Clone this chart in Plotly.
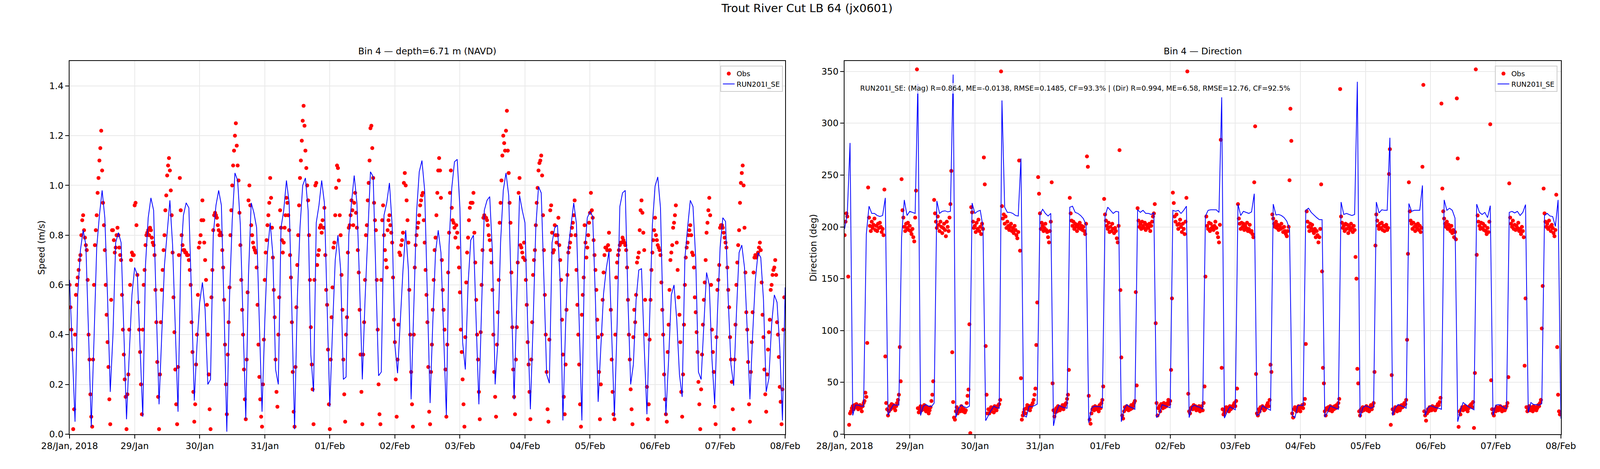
import pandas as pd
import plotly.graph_objects as go

# ---- data ----
# model output, hourly from 28/Jan 00:00
model_speed = [
    0.62, 0.33, 0.05, 0.56, 0.74, 0.82, 0.76, 0.40, 0.03, 0.38, 0.75, 0.88,
    0.98, 0.87, 0.55, 0.17, 0.40, 0.77, 0.81, 0.77, 0.42, 0.06, 0.32, 0.56,
    0.67, 0.64, 0.35, 0.07, 0.68, 0.87, 0.95, 0.90, 0.50, 0.12, 0.40, 0.68,
    0.81, 0.94, 0.76, 0.42, 0.09, 0.70, 0.88, 0.93, 0.91, 0.55, 0.135, 0.36,
    0.53, 0.61, 0.50, 0.20, 0.22, 0.80, 0.92, 0.98, 0.92, 0.50, 0.01, 0.55,
    0.86, 1.05, 1.02, 0.84, 0.45, 0.06, 0.64, 0.93, 0.89, 0.83, 0.45, 0.09,
    0.45, 0.73, 0.85, 0.72, 0.26, 0.20, 0.83, 0.90, 1.02, 0.93, 0.50, 0.02,
    0.54, 0.83, 1.00, 1.03, 0.90, 0.32, 0.17, 0.85, 0.92, 1.02, 0.93, 0.50,
    0.11, 0.42, 0.70, 0.80, 0.66, 0.22, 0.23, 0.80, 0.93, 1.04, 0.93, 0.60,
    0.22, 0.54, 0.80, 1.055, 1.035, 0.62, 0.235, 0.25, 0.88, 0.93, 1.01, 0.84,
    0.36, 0.245, 0.45, 0.66, 0.82, 0.66, 0.14, 0.50, 0.89, 1.055, 1.10, 0.98,
    0.55, 0.125, 0.45, 0.73, 0.82, 0.73, 0.40, 0.075, 0.76, 0.99, 1.095, 1.105,
    0.91, 0.37, 0.26, 0.60, 0.78, 0.80, 0.45, 0.12, 0.51, 0.90, 0.94, 0.955,
    0.73, 0.20, 0.37, 0.77, 0.98, 1.05, 0.96, 0.55, 0.14, 0.54, 0.96, 0.90,
    0.85, 0.44, 0.10, 0.44, 0.83, 0.995, 0.97, 0.62, 0.24, 0.205, 0.77, 0.83,
    0.84, 0.61, 0.055, 0.44, 0.75, 0.84, 0.93, 0.845, 0.44, 0.055, 0.73, 0.87,
    0.895, 0.875, 0.54, 0.13, 0.35, 0.565, 0.665, 0.735, 0.40, 0.07, 0.44, 0.915,
    0.97, 0.98, 0.54, 0.20, 0.28, 0.54, 0.66, 0.665, 0.35, 0.08, 0.46, 0.84,
    0.997, 1.034, 0.91, 0.44, 0.075, 0.30, 0.56, 0.60, 0.46, 0.24, 0.15, 0.705,
    0.83, 0.94, 0.915, 0.705, 0.25, 0.22, 0.44, 0.65, 0.60, 0.30, 0.12, 0.48,
    0.75, 0.87, 0.855, 0.54, 0.28, 0.195, 0.48, 0.73, 0.76, 0.67, 0.42, 0.14,
    0.40, 0.62, 0.73, 0.71, 0.54, 0.17, 0.225, 0.44, 0.56, 0.53, 0.35, 0.055,
    0.59,
]

model_dir = [
    198, 213, 281, 18, 28, 28, 27, 27, 193, 220, 213, 213,
    211, 210, 211, 228, 18, 24, 28.5, 28, 28, 190, 226, 211,
    215, 214, 213, 338, 18, 27, 28.5, 27, 26.5, 30, 225, 213,
    215, 215.5, 214.5, 215, 347, 16, 25, 28, 26.5, 25.5, 27, 223,
    213, 215, 216, 200, 13, 18, 23, 27, 25.5, 25, 322, 219,
    214, 214, 213, 211, 210.5, 266, 18, 16.5, 27, 26.5, 27.5, 29,
    212, 217, 213, 210.5, 213, 8, 21, 28, 26.5, 25.5, 25, 219,
    220, 214, 213, 211, 208, 202, 11, 25, 27, 26.5, 26.5, 25.5,
    210.5, 219, 216, 213, 215, 214.5, 12, 24, 28.5, 26.5, 25.5, 24,
    216.5, 214, 216, 213, 213, 212, 213.5, 16, 19, 28.5, 27.5, 26.5,
    25.5, 216, 215, 216, 213, 216, 220, 16, 26.5, 28, 26.5, 26,
    24, 210.5, 216, 216.5, 216.5, 216.5, 214, 325, 15.5, 21.5, 26.5, 25,
    23.5, 222, 211, 215, 214, 213, 214.5, 232, 18, 19.5, 27.5, 25.5,
    24.5, 23, 222, 211.5, 212, 211, 209, 205.5, 198, 18, 16, 27.5,
    28, 27.5, 216, 218, 214, 211.5, 209, 207, 207, 16.5, 21, 27.5,
    26, 25, 24, 224, 212, 213, 212, 211, 212, 340, 16, 25.5,
    27.5, 26.5, 25, 26.5, 224, 213.5, 216.5, 216, 216, 286, 18, 25.5,
    28.5, 27.5, 26.5, 25, 222.5, 215, 216, 216, 216, 240, 18, 25.5,
    27.5, 26.5, 25.5, 25, 24, 226, 216, 218, 216, 208.5, 12, 23,
    30.5, 28.5, 26.5, 25, 23.5, 222, 214, 212, 214, 209, 220.5, 18,
    28, 28.5, 27.5, 25.5, 24.5, 214, 215, 213.5, 215, 211, 214, 221.5,
    21, 30.5, 28.5, 28.5, 28, 29.5, 211, 213, 210.5, 210, 200.5, 226,
    15,
]

# observations, every 20 minutes from 28/Jan 00:00 (one row = 4 hours)
obs_speed = [
    0.60, 0.51, 0.42, 0.34, 0.02, 0.10, 0.40, 0.56, 0.60, 0.63, 0.66, 0.70,
    0.72, 0.80, 0.86, 0.88, 0.82, 0.79, 0.76, 0.74, 0.62, 0.40, 0.30, 0.16,
    0.07, 0.03, 0.30, 0.60, 0.76, 0.82, 0.88, 0.97, 1.03, 1.10, 1.15, 1.22,
    1.06, 0.93, 0.84, 0.74, 0.60, 0.48, 0.37, 0.27, 0.14, 0.04, 0.54, 0.82,
    0.82, 0.78, 0.73, 0.75, 0.80, 0.83, 0.80, 0.75, 0.72, 0.70, 0.56, 0.42,
    0.32, 0.22, 0.15, 0.02, 0.16, 0.24, 0.42, 0.60, 0.70, 0.73, 0.72, 0.72,
    0.92, 0.93, 0.84, 0.64, 0.53, 0.42, 0.33, 0.20, 0.08, 0.42, 0.60, 0.66,
    0.76, 0.80, 0.81, 0.82, 0.80, 0.83, 0.82, 0.79, 0.77, 0.76, 0.72, 0.58,
    0.45, 0.29, 0.15, 0.02, 0.24, 0.45, 0.58, 0.66, 0.74, 0.80, 0.90, 0.96,
    1.04, 1.08, 1.11, 1.06, 0.98, 0.88, 0.73, 0.55, 0.41, 0.26, 0.12, 0.04,
    0.27, 0.72, 1.03, 0.90, 0.80, 0.76, 0.74, 0.74, 0.73, 0.73, 0.72, 0.72,
    0.70, 0.66, 0.60, 0.45, 0.33, 0.17, 0.05, 0.12, 0.28, 0.40, 0.56, 0.75,
    0.77, 0.80, 0.86, 0.94, 0.86, 0.77, 0.70, 0.62, 0.52, 0.40, 0.24, 0.10,
    0.02, 0.55, 0.66, 0.82, 0.88, 0.89, 0.88, 0.87, 0.84, 0.82, 0.80, 0.81,
    0.80, 0.74, 0.67, 0.54, 0.36, 0.20, 0.08, 0.32, 0.45, 0.59, 0.80, 0.90,
    1.00, 1.08, 1.14, 1.20, 1.25, 1.16, 1.08, 1.02, 0.89, 0.76, 0.62, 0.50,
    0.40, 0.26, 0.14, 0.06, 0.30, 0.57, 0.94, 1.00, 0.92, 0.84, 0.80, 0.77,
    0.75, 0.74, 0.73, 0.67, 0.52, 0.36, 0.23, 0.14, 0.07, 0.03, 0.20, 0.38,
    0.62, 0.73, 0.78, 0.84, 0.88, 0.93, 1.03, 0.95, 0.83, 0.71, 0.58, 0.47,
    0.30, 0.17, 0.11, 0.40, 0.55, 0.90, 0.83, 0.78, 0.73, 0.77, 0.83, 0.88,
    0.95, 0.93, 0.88, 0.82, 0.72, 0.63, 0.45, 0.25, 0.09, 0.03, 0.27, 0.51,
    0.68, 0.80, 0.92, 1.03, 1.10, 1.18, 1.26, 1.32, 1.24, 1.14, 1.07, 1.00,
    0.94, 0.80, 0.62, 0.43, 0.28, 0.18, 0.04, 0.62, 1.00, 1.01, 0.68, 0.72,
    0.74, 0.83, 0.84, 0.81, 0.86, 0.83, 0.91, 0.72, 0.58, 0.52, 0.34, 0.12,
    0.02, 0.30, 0.47, 0.59, 0.75, 0.77, 0.88, 0.99, 1.08, 1.07, 1.02, 0.88,
    0.80, 0.64, 0.50, 0.30, 0.16, 0.05, 0.40, 0.47, 0.73, 0.83, 0.84, 0.88,
    0.94, 0.90, 0.84, 0.93, 0.97, 0.89, 0.83, 0.74, 0.65, 0.50, 0.32, 0.17,
    0.04, 0.32, 0.45, 0.62, 0.80, 0.84, 0.94, 1.01, 1.10, 1.23, 1.24, 1.15,
    1.03, 0.93, 0.86, 0.82, 0.62, 0.42, 0.20, 0.08, 0.04, 0.62, 0.86, 0.92,
    0.80, 0.74, 0.70, 0.67, 0.82, 0.86, 0.88, 0.84, 0.81, 0.77, 0.63, 0.46,
    0.37, 0.22, 0.07, 0.30, 0.44, 0.73, 0.72, 0.76, 0.78, 0.81, 1.01, 1.05,
    1.00, 0.94, 0.86, 0.77, 0.58, 0.40, 0.25, 0.12, 0.03, 0.40, 0.67, 0.76,
    0.80, 0.83, 0.85, 0.88, 0.92, 0.94, 0.96, 0.97, 0.86, 0.77, 0.66, 0.56,
    0.45, 0.27, 0.09, 0.04, 0.25, 0.36, 0.50, 0.62, 0.74, 0.79, 0.88, 0.97,
    1.06, 1.11, 1.06, 0.95, 0.70, 0.58, 0.50, 0.42, 0.26, 0.07, 0.36, 0.65,
    0.81, 0.97, 1.06, 0.91, 0.86, 0.85, 0.83, 0.79, 0.84, 0.81, 0.75, 0.67,
    0.57, 0.42, 0.33, 0.22, 0.12, 0.03, 0.39, 0.61, 0.73, 0.79, 0.86, 0.91,
    0.93, 0.93, 0.93, 0.97, 0.81, 0.69, 0.54, 0.40, 0.30, 0.17, 0.06, 0.41,
    0.60, 0.74, 0.87, 0.88, 0.87, 0.87, 0.86, 0.84, 0.80, 0.78, 0.74, 0.69,
    0.58, 0.40, 0.25, 0.15, 0.07, 0.36, 0.49, 0.62, 0.85, 0.93, 1.02, 1.12,
    1.20, 1.17, 1.14, 1.22, 1.30, 1.14, 1.05, 0.93, 0.85, 0.65, 0.43, 0.26,
    0.15, 0.08, 0.30, 0.43, 0.69, 0.97, 1.03, 0.76, 0.75, 0.73, 0.71, 0.77,
    0.70, 0.62, 0.52, 0.37, 0.28, 0.17, 0.06, 0.30, 0.45, 0.64, 0.70, 0.74,
    0.84, 0.93, 0.99, 1.06, 1.09, 1.10, 1.12, 1.04, 0.88, 0.74, 0.56, 0.40,
    0.25, 0.10, 0.05, 0.38, 0.90, 0.92, 0.81, 0.73, 0.74, 0.84, 0.80, 0.77,
    0.80, 0.87, 0.76, 0.70, 0.62, 0.46, 0.32, 0.15, 0.08, 0.28, 0.50, 0.64,
    0.73, 0.75, 0.77, 0.80, 0.83, 0.85, 0.88, 0.94, 0.80, 0.66, 0.52, 0.40,
    0.28, 0.12, 0.03, 0.48, 0.56, 0.63, 0.84, 0.77, 0.71, 0.75, 0.80, 0.85,
    0.89, 0.97, 0.90, 0.87, 0.78, 0.72, 0.66, 0.58, 0.46, 0.39, 0.25, 0.06,
    0.20, 0.40, 0.54, 0.65, 0.72, 0.75, 0.75, 0.74, 0.76, 0.81, 0.74, 0.50,
    0.30, 0.17, 0.08, 0.06, 0.40, 0.63, 0.69, 0.72, 0.74, 0.76, 0.77, 0.77,
    0.79, 0.78, 0.77, 0.76, 0.74, 0.67, 0.54, 0.40, 0.30, 0.18, 0.10, 0.04,
    0.39, 0.50, 0.45, 0.56, 0.69, 0.71, 0.73, 0.82, 0.90, 0.94, 0.89, 0.81,
    0.74, 0.54, 0.40, 0.19, 0.06, 0.12, 0.38, 0.54, 0.66, 0.73, 0.78, 0.82,
    0.87, 0.80, 0.78, 0.76, 0.75, 0.74, 0.72, 0.61, 0.50, 0.40, 0.24, 0.14,
    0.08, 0.05, 0.33, 0.44, 0.58, 0.70, 0.73, 0.76, 0.83, 0.85, 0.88, 0.92,
    0.77, 0.66, 0.55, 0.48, 0.37, 0.17, 0.07, 0.24, 0.44, 0.60, 0.71, 0.75,
    0.77, 0.80, 0.82, 0.84, 0.80, 0.73, 0.72, 0.67, 0.55, 0.49, 0.41, 0.33,
    0.21, 0.12, 0.02, 0.18, 0.32, 0.44, 0.54, 0.61, 0.70, 0.81, 0.85, 0.90,
    0.95, 0.88, 0.60, 0.42, 0.33, 0.25, 0.11, 0.04, 0.39, 0.58, 0.62, 0.68,
    0.83, 0.84, 0.84, 0.83, 0.81, 0.79, 0.77, 0.75, 0.67, 0.58, 0.51, 0.39,
    0.30, 0.21, 0.10, 0.02, 0.30, 0.44, 0.60, 0.69, 0.76, 0.82, 0.93, 1.01,
    1.05, 1.08, 1.00, 0.83, 0.65, 0.49, 0.42, 0.29, 0.12, 0.05, 0.25, 0.37,
    0.49, 0.65, 0.71, 0.72, 0.71, 0.72, 0.73, 0.75, 0.77, 0.74, 0.61, 0.48,
    0.39, 0.26, 0.16, 0.09, 0.24, 0.34, 0.41, 0.46, 0.58, 0.60, 0.64, 0.66,
    0.67, 0.70, 0.64, 0.45, 0.40, 0.31, 0.19, 0.13, 0.04, 0.18, 0.42, 0.55,
]

obs_dir = [
    192, 205, 213, 210, 152, 9, 20, 22, 25, 27, 24, 28,
    26, 29, 27, 24, 26, 28, 25, 22, 27, 30, 32, 40,
    36, 88, 238, 209, 201, 196, 205, 199, 202, 208, 197, 201,
    196, 203, 199, 204, 200, 195, 198, 192, 236, 75, 30, 24,
    18, 22, 27, 24, 29, 26, 28, 25, 23, 27, 30, 33,
    38, 84, 51, 246, 216, 209, 200, 196, 203, 199, 204, 197,
    201, 196, 193, 198, 190, 186, 209, 235, 352, 25, 21, 24,
    27, 23, 26, 24, 28, 25, 22, 26, 24, 20, 23, 26,
    32, 38, 51, 226, 213, 205, 199, 210, 202, 196, 205, 200,
    194, 199, 203, 197, 191, 205, 200, 196, 209, 222, 254, 79,
    31, 16, 14, 22, 26, 20, 24, 23, 22, 27, 25, 22,
    24, 21, 23, 30, 37, 43, 106, 1, 219, 214, 205, 199,
    201, 195, 204, 198, 207, 196, 200, 193, 203, 198, 267, 241,
    85, 38, 20, 24, 20, 23, 26, 22, 25, 21, 27, 24,
    23, 26, 28, 29, 33, 350, 220, 208, 212, 203, 210, 199,
    205, 201, 197, 200, 203, 196, 199, 194, 201, 197, 192, 189,
    195, 264, 177, 54, 14, 18, 21, 24, 20, 25, 28, 24,
    27, 23, 26, 28, 30, 33, 38, 44, 86, 127, 248, 232,
    213, 198, 204, 201, 196, 199, 203, 197, 195, 190, 185, 196,
    205, 243, 49, 23, 17, 21, 25, 22, 27, 24, 23, 26,
    25, 28, 24, 27, 29, 30, 34, 38, 62, 228, 213, 206,
    201, 205, 198, 203, 200, 196, 202, 199, 204, 198, 201, 197,
    200, 196, 193, 203, 268, 258, 37, 14, 10, 20, 24, 26,
    23, 27, 25, 24, 26, 22, 28, 25, 30, 33, 46, 227,
    212, 206, 201, 198, 204, 195, 200, 196, 203, 198, 194, 199,
    196, 189, 185, 201, 274, 139, 74, 18, 15, 22, 26, 24,
    27, 25, 23, 26, 24, 28, 25, 27, 30, 32, 137, 47,
    218, 206, 200, 203, 198, 205, 201, 199, 204, 197, 202, 200,
    199, 203, 196, 201, 205, 210, 213, 222, 107, 30, 18, 25,
    27, 22, 29, 28, 25, 30, 26, 29, 27, 30, 33, 29,
    32, 62, 131, 233, 223, 210, 205, 212, 202, 198, 203, 207,
    200, 195, 203, 198, 193, 205, 228, 350, 39, 22, 20, 25,
    26, 24, 28, 25, 27, 23, 26, 24, 27, 22, 25, 27,
    23, 30, 46, 152, 210, 201, 198, 204, 196, 203, 199, 200,
    197, 201, 205, 199, 194, 190, 185, 202, 284, 64, 24, 19,
    21, 23, 26, 24, 25, 22, 27, 24, 25, 26, 28, 30,
    27, 32, 44, 222, 208, 203, 198, 204, 200, 203, 197, 201,
    199, 204, 196, 198, 202, 195, 196, 193, 190, 243, 297, 58,
    20, 18, 24, 22, 26, 25, 27, 25, 23, 24, 26, 28,
    30, 27, 33, 67, 60, 212, 208, 203, 200, 205, 199, 202,
    197, 201, 198, 203, 199, 195, 200, 196, 193, 191, 196, 200,
    245, 314, 283, 20, 16, 24, 26, 23, 22, 25, 27, 24,
    22, 26, 28, 25, 29, 34, 87, 215, 205, 200, 196, 203,
    199, 202, 196, 194, 198, 190, 196, 192, 185, 190, 198, 241,
    157, 64, 49, 22, 18, 25, 24, 26, 23, 27, 25, 22,
    26, 24, 27, 25, 28, 26, 30, 34, 333, 210, 204, 199,
    201, 196, 203, 198, 202, 194, 200, 197, 203, 199, 195, 201,
    197, 171, 150, 63, 49, 22, 18, 24, 22, 26, 23, 25,
    24, 27, 23, 25, 22, 26, 28, 24, 27, 30, 60, 182,
    212, 206, 201, 198, 203, 199, 204, 197, 201, 196, 200, 202,
    197, 199, 251, 275, 9, 57, 24, 20, 23, 26, 25, 22,
    24, 27, 23, 25, 28, 26, 27, 30, 29, 33, 91, 174,
    243, 215, 206, 203, 198, 204, 200, 196, 202, 199, 203, 197,
    201, 195, 199, 258, 337, 22, 18, 13, 20, 24, 22, 26,
    25, 23, 27, 24, 26, 23, 25, 27, 29, 28, 31, 35,
    319, 237, 215, 208, 203, 200, 205, 198, 202, 199, 196, 201,
    194, 197, 190, 195, 188, 324, 266, 7, 22, 19, 24, 26,
    23, 25, 27, 24, 26, 22, 25, 27, 28, 29, 26, 31,
    6, 59, 352, 173, 211, 205, 201, 198, 204, 199, 203, 197,
    201, 196, 193, 199, 195, 205, 299, 52, 24, 20, 18, 24,
    22, 26, 25, 23, 24, 27, 25, 22, 24, 26, 23, 25,
    27, 30, 55, 242, 209, 203, 200, 206, 198, 202, 197, 201,
    199, 204, 196, 198, 193, 200, 196, 190, 66, 131, 26, 22,
    24, 27, 23, 26, 25, 22, 27, 24, 26, 23, 25, 28,
    27, 30, 33, 102, 143, 237, 213, 205, 200, 203, 198, 206,
    200, 196, 202, 199, 194, 191, 197, 231, 84, 38, 22, 19,
]

tick_days = ["2018-01-28", "2018-01-29", "2018-01-30", "2018-01-31", "2018-02-01", "2018-02-02",
             "2018-02-03", "2018-02-04", "2018-02-05", "2018-02-06", "2018-02-07", "2018-02-08"]
tick_labels = ["28/Jan, 2018", "29/Jan", "30/Jan", "31/Jan", "01/Feb", "02/Feb",
               "03/Feb", "04/Feb", "05/Feb", "06/Feb", "07/Feb", "08/Feb"]
speed_ticks = [0.0, 0.2, 0.4, 0.6, 0.8, 1.0, 1.2, 1.4]
dir_ticks = [0, 50, 100, 150, 200, 250, 300, 350]

stats_text = ("RUN201I_SE: (Mag) R=0.864, ME=-0.0138, RMSE=0.1485, CF=93.3% | "
              "(Dir) R=0.994, ME=6.58, RMSE=12.76, CF=92.5%")

# ---- time axes ----
t0 = pd.Timestamp("2018-01-28")
model_time = pd.date_range(t0, periods=len(model_speed), freq="h")
obs_time_spd = pd.date_range(t0, periods=len(obs_speed), freq="20min")
obs_time_dir = pd.date_range(t0, periods=len(obs_dir), freq="20min")

FONT = "DejaVu Sans"
# positions below are measured on the 5000x1200 reference and kept as fractions,
# the figure itself is stretched to whatever the browser window is
RW, RH = 5000, 1200

fig = go.Figure()

# left panel: speed
fig.add_trace(go.Scatter(x=obs_time_spd, y=obs_speed, mode="markers", name="Obs",
                         marker=dict(color="red", size=10, line=dict(width=0)),
                         xaxis="x", yaxis="y", legend="legend"))
fig.add_trace(go.Scatter(x=model_time, y=model_speed, mode="lines", name="RUN201I_SE",
                         line=dict(color="blue", width=2),
                         xaxis="x", yaxis="y", legend="legend"))

# right panel: direction
fig.add_trace(go.Scatter(x=obs_time_dir, y=obs_dir, mode="markers", name="Obs",
                         marker=dict(color="red", size=10, line=dict(width=0)),
                         xaxis="x2", yaxis="y2", legend="legend2"))
fig.add_trace(go.Scatter(x=model_time, y=model_dir, mode="lines", name="RUN201I_SE",
                         line=dict(color="blue", width=2),
                         xaxis="x2", yaxis="y2", legend="legend2"))

axis_style = dict(showline=True, mirror=True, linecolor="black", linewidth=2,
                  ticks="outside", ticklen=9, tickwidth=2, tickcolor="black",
                  showgrid=True, gridcolor="#e9e9e9", gridwidth=1.5, zeroline=False,
                  tickfont=dict(family=FONT, size=23, color="black"))

x_left = [132 / RW, 2431 / RW]
x_right = [2622 / RW, 4923 / RW]
y_dom = [1 - 1123 / RH, 1 - 158 / RH]
x_range = ["2018-01-28", "2018-02-08"]

legend_style = dict(yanchor="top", xanchor="right", y=1 - 170 / RH,
                    bgcolor="rgba(255,255,255,0.8)", bordercolor="#cccccc", borderwidth=2,
                    font=dict(family=FONT, size=18))

fig.update_layout(
    width=4096, height=1200, autosize=False,
    margin=dict(l=0, r=0, t=0, b=0),
    paper_bgcolor="white", plot_bgcolor="white",
    font=dict(family=FONT, color="black"),
    xaxis=dict(domain=x_left, anchor="y", type="date", range=x_range,
               tickvals=tick_days, ticktext=tick_labels, **axis_style),
    yaxis=dict(domain=y_dom, anchor="x", range=[0, 1.5], tickvals=speed_ticks,
               tickformat=".1f", **axis_style),
    xaxis2=dict(domain=x_right, anchor="y2", type="date", range=x_range,
                tickvals=tick_days, ticktext=tick_labels, **axis_style),
    yaxis2=dict(domain=y_dom, anchor="x2", range=[0, 360], tickvals=dir_ticks, **axis_style),
    legend=dict(x=2423 / RW, **legend_style),
    legend2=dict(x=4912 / RW, **legend_style),
)

# titles, axis labels and stats text
notes = [
    dict(text="Trout River Cut LB 64 (jx0601)", x=0.5, y=1 - 21 / RH, size=29, angle=0),
    dict(text="Bin 4 \u2014 depth=6.71 m (NAVD)", x=sum(x_left) / 2, y=1 - 132 / RH, size=23, angle=0),
    dict(text="Bin 4 \u2014 Direction", x=sum(x_right) / 2, y=1 - 132 / RH, size=23, angle=0),
    dict(text="Speed (m/s)", x=41 / RW, y=sum(y_dom) / 2, size=23, angle=-90),
    dict(text="Direction (deg)", x=2521 / RW, y=sum(y_dom) / 2, size=23, angle=-90),
]
for n in notes:
    fig.add_annotation(text=n["text"], x=n["x"], y=n["y"], xref="paper", yref="paper",
                       xanchor="center", yanchor="middle", showarrow=False, textangle=n["angle"],
                       font=dict(family=FONT, size=n["size"], color="black"))

fig.add_annotation(text=stats_text, x=0.02, y=0.927, xref="x2 domain", yref="y2 domain",
                   xanchor="left", yanchor="middle", showarrow=False,
                   bgcolor="rgba(255,255,255,0.7)", borderpad=2,
                   font=dict(family=FONT, size=18, color="black"))

# fill the browser window exactly (no body margin, no scrollbars)
fit_page = ("document.body.style.margin='0';"
            "document.body.style.overflow='hidden';"
            "Plotly.relayout('{plot_id}', {width: window.innerWidth, height: window.innerHeight});")

fig.write_html("out.html", post_script=fit_page, config={"displayModeBar": False})
